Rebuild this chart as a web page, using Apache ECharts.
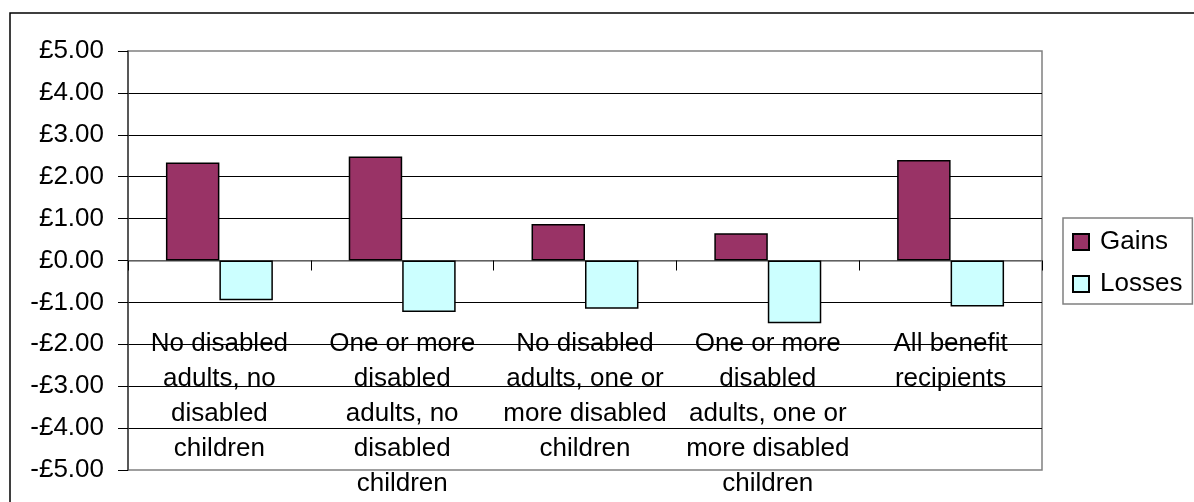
<!DOCTYPE html>
<html>
<head>
<meta charset="utf-8">
<script src="https://cdn.jsdelivr.net/npm/echarts@6/dist/echarts.min.js"></script>
<style>
html,body{margin:0;padding:0;background:#fff;}
#chart{width:1194px;height:502px;}
</style>
</head>
<body>
<div id="chart"></div>
<script>
var categories = [
  "No disabled\nadults, no\ndisabled\nchildren",
  "One or more\ndisabled\nadults, no\ndisabled\nchildren",
  "No disabled\nadults, one or\nmore disabled\nchildren",
  "One or more\ndisabled\nadults, one or\nmore disabled\nchildren",
  "All benefit\nrecipients"
];
var gains = [2.34, 2.48, 0.87, 0.65, 2.40];
var losses = [-0.95, -1.23, -1.15, -1.50, -1.10];
var seriesNames = ["Gains", "Losses"];

var FONT = "'Liberation Sans', Arial, sans-serif";
var chart = echarts.init(document.getElementById('chart'), null, {renderer: 'canvas'});
chart.setOption({
  animation: false,
  backgroundColor: '#fff',
  textStyle: {fontFamily: FONT, color: '#000'},
  graphic: [{
    type: 'rect', left: 7.5, top: 10.5, silent: true, z: 100,
    shape: {width: 1300, height: 700},
    style: {fill: 'none', stroke: '#000', lineWidth: 1.5}
  }],
  grid: {
    left: 128, top: 51, right: 152, bottom: 32,
    containLabel: false, outerBoundsMode: 'none',
    show: true, borderColor: '#808080', borderWidth: 1.5, backgroundColor: 'transparent'
  },
  legend: {
    orient: 'vertical',
    left: 1063, top: 218,
    padding: [10, 10, 6, 9],
    itemGap: 14,
    itemWidth: 16, itemHeight: 16,
    borderColor: '#808080', borderWidth: 1.5,
    icon: 'rect',
    textStyle: {fontFamily: FONT, fontSize: 26, color: '#000', lineHeight: 28, padding: [0, 0, 0, 6]},
    data: seriesNames
  },
  xAxis: {
    type: 'category',
    data: categories,
    axisLine: {onZero: true, lineStyle: {color: '#808080', width: 1.5}},
    axisTick: {show: true, length: 10, lineStyle: {color: '#000'}},
    axisLabel: {
      interval: 0, margin: -144, hideOverlap: false,
      fontFamily: FONT, fontSize: 26, lineHeight: 35, color: '#000', align: 'center', verticalAlign: 'top'
    },
    splitLine: {show: false}
  },
  yAxis: {
    type: 'value',
    min: -5, max: 5, interval: 1,
    axisLine: {show: true, onZero: false, lineStyle: {color: '#404040', width: 1.5}},
    axisTick: {show: true, length: 10, lineStyle: {color: '#000'}},
    axisLabel: {
      margin: 24, fontFamily: FONT, fontSize: 26, color: '#000',
      showMinLabel: true, showMaxLabel: true, hideOverlap: false,
      formatter: function (v) {
        return (v < 0 ? '-£' : '£') + Math.abs(v).toFixed(2);
      }
    },
    splitLine: {show: true, showMinLine: false, showMaxLine: false, lineStyle: {color: '#000', width: 1}}
  },
  series: [
    {
      name: seriesNames[0], type: 'bar', data: gains,
      barGap: '0%', barCategoryGap: '41.5%',
      itemStyle: {color: '#993366', borderColor: '#000', borderWidth: 1.5}
    },
    {
      name: seriesNames[1], type: 'bar', data: losses,
      barGap: '0%', barCategoryGap: '41.5%',
      itemStyle: {color: '#CCFFFF', borderColor: '#000', borderWidth: 1.5}
    }
  ]
});
</script>
</body>
</html>
